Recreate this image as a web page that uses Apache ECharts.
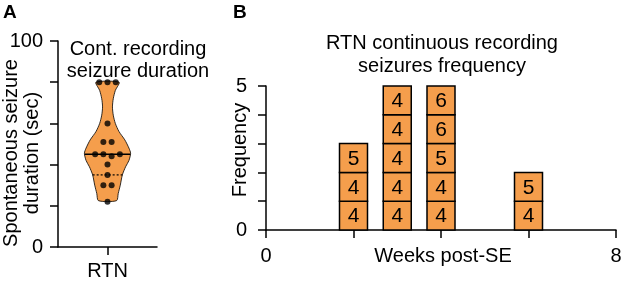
<!DOCTYPE html>
<html>
<head>
<meta charset="utf-8">
<script src="https://cdn.jsdelivr.net/npm/echarts@6/dist/echarts.min.js"></script>
<style>
  html, body { margin: 0; padding: 0; background: #fff; }
  #chart { width: 624px; height: 283px; }
</style>
</head>
<body>
<div id="chart"></div>
<script>
// panel A: seizure durations (sec) and their horizontal dot offsets
const durationValues = [80, 80, 80, 60, 51, 51, 45, 45, 44, 45, 40, 35, 30, 30, 22]
const durationOffsets = [-1, 0, 1, 0, -0.5, 0.5, -1.5, -0.5, 0.5, 1.5, 0, 0, -0.5, 0.5, 0]
// violin outline (value level -> half width in x units)
const violinLevels = [80, 76, 72, 68, 64, 60, 56, 52, 48, 45.5, 42, 39, 35, 30, 26, 22.5]
const violinHalfWidths = [1.4, 0.95, 0.7, 0.6, 0.7, 0.95, 1.4, 2.1, 2.6, 2.8, 2.6, 2.2, 1.8, 1.55, 1.3, 1.1]
const durationMedian = 45
const durationQuartile = 35
const durationTicks = [0, 100]

// panel B: weeks post-SE and the stacked boxes (bottom to top) per week
const weeks = [2, 3, 4, 6]
const boxLabels = [[4, 4, 5], [4, 4, 4, 4, 4], [4, 4, 5, 6, 6], [4, 5]]
const weekTicks = [0, 8]
const freqTicks = [0, 5]

const ORANGE = '#F59E4C'
const FONT = 'Liberation Sans, Arial, Helvetica, sans-serif'
const BOX_W = 0.64

const chart = echarts.init(document.getElementById('chart'))

const halfAt = (v) => {
  for (let i = 0; i < violinLevels.length - 1; i++) {
    const a = violinLevels[i], b = violinLevels[i + 1]
    if (v <= a && v >= b) {
      const t = (a - v) / (a - b)
      return violinHalfWidths[i] + t * (violinHalfWidths[i + 1] - violinHalfWidths[i])
    }
  }
  return 0
}

const boxData = []
weeks.forEach((w, i) => {
  boxLabels[i].forEach((lab, lv) => boxData.push([w, lv, lab]))
})

const axisLine = { onZero: false, lineStyle: { color: '#000', width: 1.5 } }
const axisTick = { length: 8, lineStyle: { color: '#000', width: 1.5 } }
const labelStyle = { color: '#000', fontSize: 20, fontFamily: FONT }
const textStyle = { fontSize: 20, fontFamily: FONT, fill: '#000' }

chart.setOption({
  animation: false,
  textStyle: { fontFamily: FONT },
  grid: [
    { left: 58, top: 41, width: 99, bottom: 36, outerBoundsMode: 'none', containLabel: false },
    { left: 266, top: 86, right: 8, bottom: 53, outerBoundsMode: 'none', containLabel: false },
  ],
  xAxis: [
    {
      gridIndex: 0, type: 'value', min: -6, max: 6,
      splitLine: { show: false }, axisLine,
      axisTick: { ...axisTick, customValues: [0] },
      axisLabel: { ...labelStyle, margin: 14, customValues: [0], formatter: () => 'RTN' },
    },
    {
      gridIndex: 1, type: 'value', min: 0, max: 8, interval: 2,
      splitLine: { show: false }, axisLine, axisTick,
      axisLabel: { ...labelStyle, margin: 16, formatter: (v) => (weekTicks.includes(v) ? String(v) : '') },
      name: 'Weeks post-SE', nameLocation: 'middle', nameGap: 16, nameMoveOverlap: false,
      nameTextStyle: { ...labelStyle, padding: [0, 0, 0, 4] },
    },
  ],
  yAxis: [
    {
      gridIndex: 0, type: 'value', min: 0, max: 100, interval: 20,
      splitLine: { show: false }, axisLine, axisTick,
      axisLabel: { ...labelStyle, margin: 15, customValues: durationTicks },
    },
    {
      gridIndex: 1, type: 'value', min: 0, max: 5, interval: 1,
      splitLine: { show: false }, axisLine, axisTick,
      axisLabel: { ...labelStyle, margin: 19, customValues: freqTicks },
      name: 'Frequency', nameLocation: 'middle', nameRotate: 90, nameGap: 16, nameMoveOverlap: false,
      nameTextStyle: { ...labelStyle, padding: [0, 0, 0, 16] },
    },
  ],
  graphic: [
    { type: 'text', left: 3, top: 3, style: { text: 'A', fontSize: 19, fontWeight: 'bold', fontFamily: FONT, fill: '#000' } },
    { type: 'text', left: 233, top: 3, style: { text: 'B', fontSize: 19, fontWeight: 'bold', fontFamily: FONT, fill: '#000' } },
    {
      type: 'text', x: 22, y: 153, rotation: Math.PI / 2,
      style: { ...textStyle, text: 'Spontaneous seizure\nduration (sec)', align: 'center', verticalAlign: 'middle', lineHeight: 21 },
    },
    {
      type: 'text', x: 138, y: 38,
      style: { ...textStyle, text: 'Cont. recording\nseizure duration', align: 'center', verticalAlign: 'top', lineHeight: 22 },
    },
    {
      type: 'text', x: 442, y: 32,
      style: { ...textStyle, text: 'RTN continuous recording\nseizures frequency', align: 'center', verticalAlign: 'top', lineHeight: 23 },
    },
  ],
  series: [
    {
      type: 'custom', xAxisIndex: 0, yAxisIndex: 0, silent: true, z: 1,
      data: [[0]],
      renderItem: (params, api) => {
        const right = violinLevels.map((v, i) => api.coord([violinHalfWidths[i], v]))
        const left = violinLevels.map((v, i) => api.coord([-violinHalfWidths[i], v])).reverse()
        const line = (v) => {
          const h = halfAt(v)
          const a = api.coord([-h, v]), b = api.coord([h, v])
          return { x1: a[0], y1: a[1], x2: b[0], y2: b[1] }
        }
        return {
          type: 'group',
          children: [
            { type: 'polygon', shape: { points: right.concat(left), smooth: 0.25 }, style: { fill: ORANGE, stroke: '#000', lineWidth: 0.8 } },
            { type: 'line', shape: line(durationMedian), style: { stroke: '#000', lineWidth: 1.5 } },
            { type: 'line', shape: line(durationQuartile), style: { stroke: '#000', lineWidth: 1.2, lineDash: [2, 2] } },
          ],
        }
      },
    },
    {
      type: 'scatter', xAxisIndex: 0, yAxisIndex: 0, z: 3,
      symbolSize: 6, itemStyle: { color: '#000' },
      data: durationValues.map((v, i) => [durationOffsets[i], v]),
    },
    {
      type: 'custom', xAxisIndex: 1, yAxisIndex: 1,
      data: boxData,
      renderItem: (params, api) => {
        const w = api.value(0), lv = api.value(1)
        const p = api.coord([w, lv + 1])
        const s = api.size([BOX_W, 1])
        return {
          type: 'group',
          children: [
            { type: 'rect', shape: { x: p[0] - s[0] / 2, y: p[1], width: s[0], height: s[1] }, style: { fill: ORANGE, stroke: '#000', lineWidth: 1.5 } },
            {
              type: 'text', x: p[0], y: p[1] + s[1] / 2 + 1,
              style: { text: String(api.value(2)), align: 'center', verticalAlign: 'middle', fontSize: 21, fontFamily: FONT, fill: '#000' },
            },
          ],
        }
      },
    },
  ],
})
</script>
</body>
</html>
